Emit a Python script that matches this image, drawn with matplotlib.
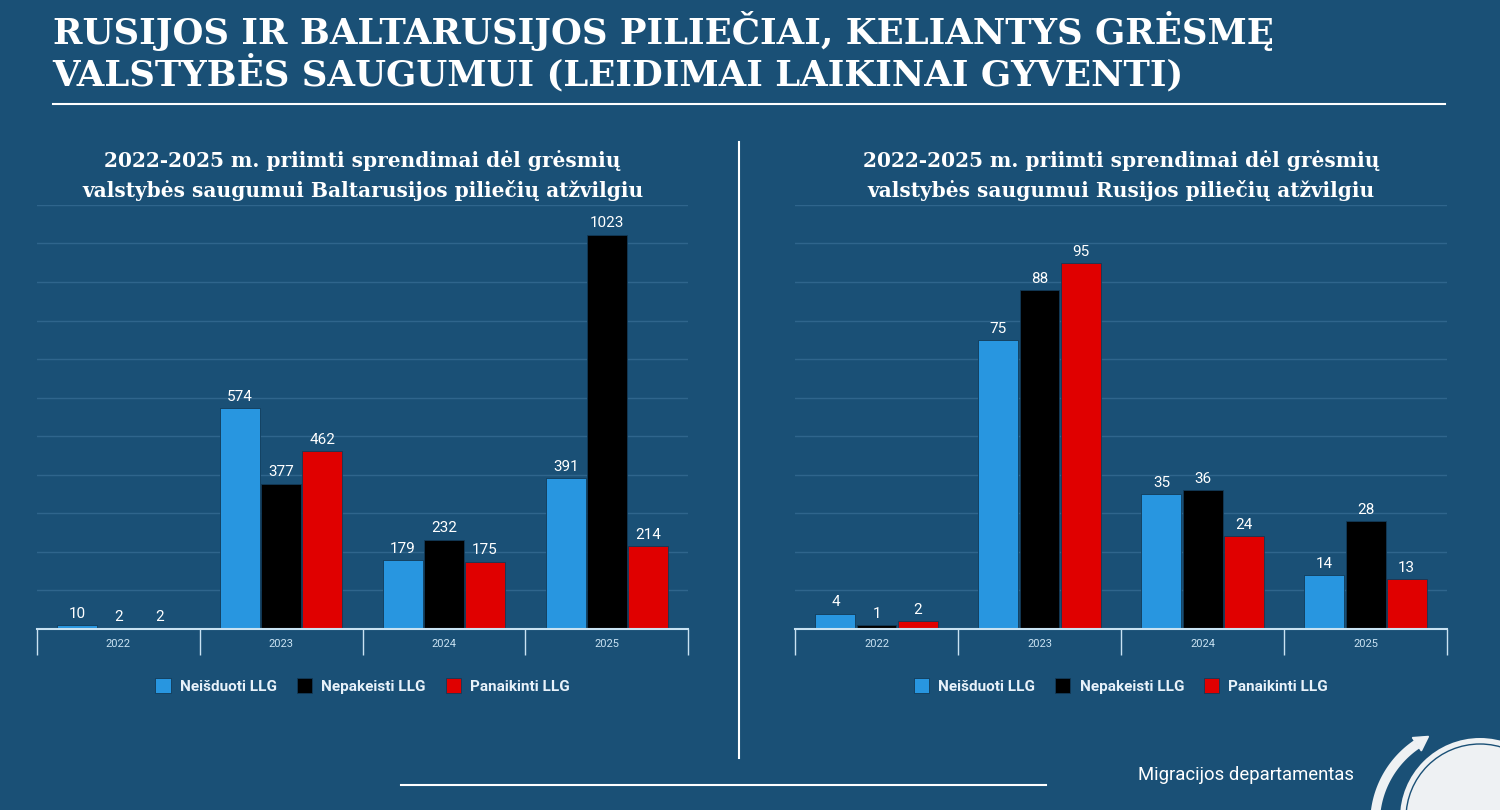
import numpy as np
import matplotlib.pyplot as plt
from matplotlib.patches import Circle
from matplotlib.lines import Line2D

# duomenys
years = ['2022', '2023', '2024', '2025']
series_names = ['Neišduoti LLG', 'Nepakeisti LLG', 'Panaikinti LLG']

by_neisduoti = [10, 574, 179, 391]
by_nepakeisti = [2, 377, 232, 1023]
by_panaikinti = [2, 462, 175, 214]

ru_neisduoti = [4, 75, 35, 14]
ru_nepakeisti = [1, 88, 36, 28]
ru_panaikinti = [2, 95, 24, 13]

title = 'RUSIJOS IR BALTARUSIJOS PILIEČIAI, KELIANTYS GRĖSMĘ\nVALSTYBĖS SAUGUMUI (LEIDIMAI LAIKINAI GYVENTI)'
sub_by = '2022-2025 m. priimti sprendimai dėl grėsmių\nvalstybės saugumui Baltarusijos piliečių atžvilgiu'
sub_ru = '2022-2025 m. priimti sprendimai dėl grėsmių\nvalstybės saugumui Rusijos piliečių atžvilgiu'

bg = '#1a5076'
grid_c = '#2f658c'
axis_c = '#c9e2f2'
logo_c = '#eef1f3'
colors = ['#2896e0', '#000000', '#e00000']
narrow = 'Roboto'
serif = 'DejaVu Serif'

fig = plt.figure(figsize=(15, 8.1), dpi=100, facecolor=bg)


def draw_panel(rect, data, ymax, step, subtitle):
    ax = fig.add_axes(rect)
    ax.set_facecolor(bg)
    x = np.arange(len(years))
    w = 0.245
    offs = [-0.252, 0, 0.252]
    for i, vals in enumerate(data):
        bars = ax.bar(x + offs[i], vals, w, color=colors[i], edgecolor='#123a57',
                      linewidth=0.6, zorder=3, label=series_names[i])
        ax.bar_label(bars, padding=3, color='white', fontsize=11,
                     family=narrow)
    ax.set_xlim(-0.5, len(years) - 0.5)
    ax.set_ylim(0, ymax)
    ax.set_yticks(np.arange(0, ymax + step, step))
    ax.yaxis.grid(True, color=grid_c, linewidth=1, zorder=0)
    ax.tick_params(axis='y', length=0, labelleft=False)
    ax.set_xticks(x)
    ax.set_xticklabels(years, color=axis_c, fontsize=8, family=narrow)
    ax.set_xticks(np.arange(-0.5, len(years)), minor=True)
    ax.tick_params(axis='x', which='major', length=0, pad=7)
    ax.tick_params(axis='x', which='minor', length=19, width=1, color=axis_c)
    for s in ['top', 'right', 'left']:
        ax.spines[s].set_visible(False)
    ax.spines['bottom'].set_color(axis_c)
    ax.spines['bottom'].set_linewidth(1.5)
    ax.spines['bottom'].set_zorder(4)
    leg = ax.legend(loc='center', bbox_to_anchor=(0.5, -0.134), ncol=3,
                    frameon=False, handlelength=1.0, handleheight=1.2,
                    handletextpad=0.6, columnspacing=1.3,
                    prop={'family': narrow, 'weight': 'bold', 'size': 11})
    for t in leg.get_texts():
        t.set_color('#e8f2fa')
    ax.set_title(subtitle, color='white', fontsize=14.5, fontweight='bold',
                 family=serif, pad=6, linespacing=1.5)
    return ax


draw_panel([0.0247, 0.2235, 0.434, 0.5235],
           [by_neisduoti, by_nepakeisti, by_panaikinti], 1100, 100, sub_by)
draw_panel([0.53, 0.2235, 0.4347, 0.5235],
           [ru_neisduoti, ru_nepakeisti, ru_panaikinti], 110, 10, sub_ru)

# pagrindinis pavadinimas
fig.text(0.035, 0.987, title, color='white', fontsize=25.6, fontweight='bold',
         family=serif, va='top', ha='left', linespacing=1.1)

# linijos
fig.add_artist(Line2D([0.035, 0.963], [0.871, 0.871], color='white', lw=1.5))
fig.add_artist(Line2D([0.4927, 0.4927], [0.064, 0.825], color='white', lw=1.5))
fig.add_artist(Line2D([0.267, 0.697], [0.031, 0.031], color='white', lw=1.5))

fig.text(0.9027, 0.043, 'Migracijos departamentas', color='white', fontsize=13.3,
         family=narrow, ha='right', va='center')

# logotipas (gaublys su rodykle)
lax = fig.add_axes([1360 / 1500, 0, 140 / 1500, 90 / 810])
lax.set_xlim(1360, 1500)
lax.set_ylim(810, 720)
lax.axis('off')
lax.add_patch(Circle((1480, 818), 80, facecolor=logo_c, edgecolor='none', clip_on=False))
lax.add_patch(Circle((1480, 818), 74, facecolor='none', edgecolor=bg, lw=1.0, clip_on=False))
cx, cy, r = 1470, 823, 95
th = np.radians(np.linspace(200, 124, 60))
lax.plot(cx + r * np.cos(th), cy - r * np.sin(th), color=logo_c, lw=7,
         solid_capstyle='butt', clip_on=False)
te = np.radians(124)
end = np.array([cx + r * np.cos(te), cy - r * np.sin(te)])
d = np.array([np.sin(te), np.cos(te)])
nrm = np.array([np.cos(te), -np.sin(te)])
head = np.array([end + 14 * d, end + 8 * nrm, end - 8 * nrm])
lax.fill(head[:, 0], head[:, 1], color=logo_c, clip_on=False)

fig.savefig('out.png', dpi=100, facecolor=bg)
